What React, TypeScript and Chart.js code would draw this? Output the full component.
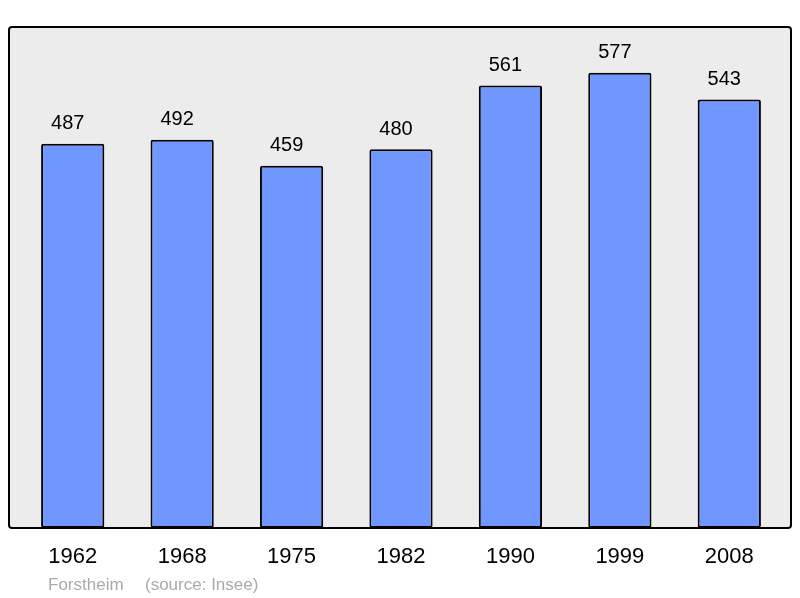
import React, { useEffect, useRef } from "react";
import { Chart, registerables } from "chart.js";

Chart.register(...registerables);

const years = ["1962", "1968", "1975", "1982", "1990", "1999", "2008"];
const population = [487, 492, 459, 480, 561, 577, 543];
const footerName = "Forstheim";
const footerSource = "(source: Insee)";

const FONT = "'Liberation Sans', Arial, sans-serif";

export default function App() {
  const ref = useRef<HTMLCanvasElement | null>(null);

  useEffect(() => {
    if (!ref.current) return;
    const decor = {
      id: "decor",
      beforeDraw(chart: any) {
        const { ctx, chartArea } = chart;
        const y = chart.scales.y;
        const left = 9;
        const right = 791;
        const top = chartArea.top;
        const bottom = y.getPixelForValue(0);
        ctx.save();
        ctx.beginPath();
        ctx.roundRect(left, top, right - left, bottom - top, 3);
        ctx.fillStyle = "#ececec";
        ctx.fill();
        ctx.restore();
      },
      afterDatasetsDraw(chart: any) {
        const { ctx, chartArea } = chart;
        const x = chart.scales.x;
        const y = chart.scales.y;
        const left = 9;
        const right = 791;
        const top = chartArea.top;
        const bottom = y.getPixelForValue(0);
        ctx.save();
        ctx.beginPath();
        ctx.roundRect(left, top, right - left, bottom - top, 3);
        ctx.lineWidth = 2;
        ctx.strokeStyle = "#000";
        ctx.stroke();

        ctx.fillStyle = "#000";
        ctx.textAlign = "center";
        ctx.textBaseline = "middle";
        ctx.font = `20px ${FONT}`;
        population.forEach((v, i) => {
          const px = x.getPixelForValue(i);
          const py = y.getPixelForValue(v);
          ctx.fillText(String(v), px - 5, py - 20);
        });
        ctx.font = `22px ${FONT}`;
        years.forEach((yr, i) => {
          const px = x.getPixelForValue(i);
          ctx.fillText(yr, px, bottom + 29);
        });
        ctx.textAlign = "left";
        ctx.fillStyle = "#aaaaaa";
        ctx.font = `17px ${FONT}`;
        ctx.fillText(footerName, 48, bottom + 57);
        ctx.fillText(footerSource, 145, bottom + 57);
        ctx.restore();
      },
    };

    const chart = new Chart(ref.current, {
      type: "bar",
      data: {
        labels: years,
        datasets: [
          {
            data: population,
            backgroundColor: "#7097ff",
            borderColor: "#000",
            borderWidth: 2,
            borderRadius: 2,
            borderSkipped: false,
            barPercentage: 0.578,
            categoryPercentage: 1,
          },
        ],
      },
      options: {
        responsive: false,
        animation: false,
        layout: { padding: { left: 18, right: 16, top: 27, bottom: 70 } },
        plugins: {
          legend: { display: false },
          tooltip: { enabled: false },
        },
        scales: {
          x: { display: false },
          y: { display: false, min: 0, max: 635 },
        },
      },
      plugins: [decor],
    });
    return () => chart.destroy();
  }, []);

  return (
    <div style={{ position: "fixed", left: 0, top: 0, width: 800, height: 598, background: "#fff" }}>
      <canvas ref={ref} width={800} height={598} />
    </div>
  );
}
